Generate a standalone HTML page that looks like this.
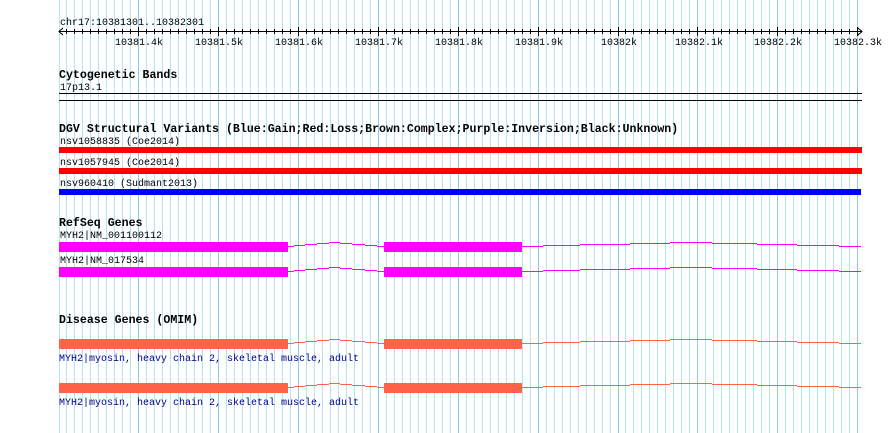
<!DOCTYPE html>
<html><head><meta charset="utf-8"><style>
html,body{margin:0;padding:0;background:#fff;}
svg{display:block;}
text{font-family:"Liberation Mono",monospace;font-size:10px;fill:#000;}
.b{font-weight:bold;font-size:11.6px;}
.d{fill:#00008b;}
</style></head><body>
<svg id="s" width="890" height="433" viewBox="0 0 890 433" xmlns="http://www.w3.org/2000/svg">
<rect width="890" height="433" fill="#fff"/>
<g id="grid"></g>
<g id="ruler" stroke="#000" stroke-width="1" shape-rendering="crispEdges"></g>
<text x="60" y="25">chr17:10381301..10382301</text>
<text x="115" y="45">10381.4k</text>
<text x="195" y="45">10381.5k</text>
<text x="275" y="45">10381.6k</text>
<text x="355" y="45">10381.7k</text>
<text x="435" y="45">10381.8k</text>
<text x="515" y="45">10381.9k</text>
<text x="601" y="45">10382k</text>
<text x="675" y="45">10382.1k</text>
<text x="754" y="45">10382.2k</text>
<text x="834" y="45">10382.3k</text>

<text class="b" x="59" y="78">Cytogenetic Bands</text>
<text x="60" y="90">17p13.1</text>
<rect x="59" y="93" width="803" height="1" fill="#000"/>
<rect x="59" y="100" width="803" height="1" fill="#000"/>

<text class="b" x="59" y="132">DGV Structural Variants (Blue:Gain;Red:Loss;Brown:Complex;Purple:Inversion;Black:Unknown)</text>
<text x="60" y="144">nsv1058835 (Coe2014)</text>
<rect x="59" y="147" width="803" height="6" fill="#ff0000"/>
<text x="60" y="165">nsv1057945 (Coe2014)</text>
<rect x="59" y="168" width="803" height="6" fill="#ff0000"/>
<text x="60" y="186">nsv960410 (Sudmant2013)</text>
<rect x="59" y="189" width="802" height="6" fill="#0000ff"/>

<text class="b" x="59" y="226">RefSeq Genes</text>
<text x="60" y="238">MYH2|NM_001100112</text>
<g id="g1"></g>
<text x="60" y="263">MYH2|NM_017534</text>
<g id="g2"></g>

<text class="b" x="59" y="323">Disease Genes (OMIM)</text>
<g id="g3"></g>
<text class="d" x="59" y="361">MYH2|myosin, heavy chain 2, skeletal muscle, adult</text>
<g id="g4"></g>
<text class="d" x="59" y="405">MYH2|myosin, heavy chain 2, skeletal muscle, adult</text>
</svg>
<script>
var NS="http://www.w3.org/2000/svg";
function el(p,t,a){var e=document.createElementNS(NS,t);for(var k in a)e.setAttribute(k,a[k]);p.appendChild(e);return e;}
var grid=document.getElementById("grid");
function X(bp){return 59+bp*0.799;}
el(grid,"rect",{x:59,y:0,width:1,height:433,fill:"#aee8ea"});
for(var j=1;j<=100;j++){
 var x=Math.round(X(10*j-1));
 el(grid,"rect",{x:x,y:0,width:1,height:433,fill:(j%10==0)?"#8ccaec":"#aee8ea"});
}
var r=document.getElementById("ruler");
el(r,"line",{x1:59,y1:31.5,x2:862,y2:31.5});
el(r,"polyline",{points:"63,28 59,31.5 63,35",fill:"none"});
el(r,"polyline",{points:"858,28 862,31.5 858,35",fill:"none"});
for(var j=1;j<=100;j++){
 var x=Math.round(X(10*j-1))+0.5;
 var big=(j%10==0);
 el(r,"line",{x1:x,y1:big?27:29,x2:x,y2:big?36:34});
}
function gene(id,y,col){
 var g=document.getElementById(id);
 el(g,"rect",{x:59,y:y,width:229,height:10,fill:col});
 el(g,"rect",{x:384,y:y,width:138,height:10,fill:col});
 var b=y+4;
 var segs=[[288,294,b],[294,305,b-1],[305,317,b-2],[317,329,b-3],[329,340,b-4],[340,352,b-3],[352,365,b-2],[365,377,b-1],[377,384,b],
 [522,543,b],[543,580,b-1],[580,630,b-2],[630,670,b-3],[670,712,b-4],[712,757,b-3],[757,797,b-2],[797,839,b-1],[839,861,b]];
 segs.forEach(function(s){el(g,"rect",{x:s[0],y:s[2],width:s[1]-s[0],height:1,fill:col});});
}
gene("g1",242,"#ff00ff");
gene("g2",267,"#ff00ff");
gene("g3",339,"#ff6347");
gene("g4",383,"#ff6347");
</script>
</body></html>
